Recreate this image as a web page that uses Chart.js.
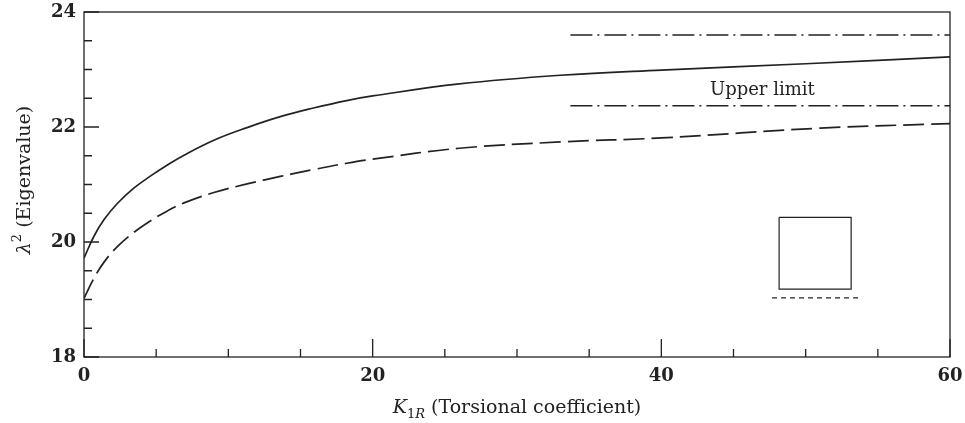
<!DOCTYPE html>
<html>
<head>
<meta charset="utf-8">
<script src="https://cdn.jsdelivr.net/npm/chart.js@4"></script>
<style>
  html, body { margin: 0; padding: 0; background: #fff; }
  #wrap { width: 965px; height: 423px; }
</style>
</head>
<body>
<div id="wrap"><canvas id="eigenChart"></canvas></div>
<script>
// solid curve (upper)
const kSolid = [0, 0.69, 1.39, 2.31, 3.47, 4.62, 5.78, 6.93, 9, 11.3, 13.6, 15.9, 18.2, 20, 26, 33, 40, 50, 60];
const lambdaSolid = [19.72, 20.10, 20.39, 20.67, 20.94, 21.15, 21.34, 21.51, 21.77, 21.99, 22.18, 22.33, 22.46, 22.54, 22.75, 22.90, 22.99, 23.10, 23.22];

// dashed curve (lower)
const kDashed = [0, 0.69, 1.39, 2.31, 3.47, 4.62, 5.78, 6.93, 9, 11.3, 13.6, 15.9, 18.2, 20, 26, 33, 40, 51, 60];
const lambdaDashed = [19.02, 19.37, 19.65, 19.92, 20.17, 20.37, 20.54, 20.68, 20.86, 21.01, 21.14, 21.26, 21.37, 21.44, 21.63, 21.74, 21.81, 21.98, 22.06];

// upper limit band (dash-dot)
const limitK = [33.7, 60];
const limitTop = [23.6, 23.6];
const limitBottom = [22.37, 22.37];

// small cross-section sketch
const boxK = [48.16, 53.15, 53.15, 48.16, 48.16];
const boxLambda = [20.43, 20.43, 19.18, 19.18, 20.43];
const baseK = [47.67, 53.7];
const baseLambda = [19.03, 19.03];

const xTickLabels = [0, 20, 40, 60];
const yTickLabels = [18, 20, 22, 24];
const limitLabel = { text: "Upper limit", k: 47.0, lambda: 22.64 };

const INK = "#222";
const SERIF = "'DejaVu Serif', 'Liberation Serif', serif";

function pts(xs, ys) {
  return xs.map((x, i) => ({ x: x, y: ys[i] }));
}

function drawRich(ctx, parts, cx, cy) {
  // parts: [text, font, dy]
  let total = 0;
  parts.forEach(p => { ctx.font = p[1]; total += ctx.measureText(p[0]).width; });
  let x = cx - total / 2;
  ctx.textBaseline = "alphabetic";
  ctx.textAlign = "left";
  parts.forEach(p => {
    ctx.font = p[1];
    ctx.fillText(p[0], x, cy + p[2]);
    x += ctx.measureText(p[0]).width;
  });
}

const framePlugin = {
  id: "frame",
  afterDraw(chart) {
    const ctx = chart.ctx;
    const a = chart.chartArea;
    const xs = chart.scales.x;
    const ys = chart.scales.y;
    ctx.save();
    ctx.strokeStyle = INK;
    ctx.fillStyle = INK;
    ctx.lineWidth = 1.3;
    ctx.strokeRect(a.left, a.top, a.right - a.left, a.bottom - a.top);

    // inward ticks
    ctx.beginPath();
    xs.ticks.forEach(t => {
      const px = xs.getPixelForValue(t.value);
      const len = (t.value % 20 === 0) ? 18 : 8;
      ctx.moveTo(px, a.bottom);
      ctx.lineTo(px, a.bottom - len);
    });
    ys.ticks.forEach(t => {
      const py = ys.getPixelForValue(t.value);
      const len = (t.value % 2 === 0) ? 15 : 8;
      ctx.moveTo(a.left, py);
      ctx.lineTo(a.left + len, py);
    });
    ctx.stroke();

    // x title
    drawRich(ctx, [
      ["K", "italic 19px " + SERIF, 0],
      ["1", "13px " + SERIF, 5],
      ["R", "italic 13px " + SERIF, 5],
      [" (Torsional coefficient)", "19px " + SERIF, 0]
    ], (a.left + a.right) / 2, 413);

    // y title
    ctx.save();
    ctx.translate(30, 180);
    ctx.rotate(-Math.PI / 2);
    drawRich(ctx, [
      ["\u03bb", "italic 19px " + SERIF, 0],
      ["2", "13px " + SERIF, -9],
      [" (Eigenvalue)", "19px " + SERIF, 0]
    ], 0, 0);
    ctx.restore();

    // upper limit label
    ctx.font = "18px " + SERIF;
    ctx.textAlign = "center";
    ctx.textBaseline = "middle";
    ctx.fillText(limitLabel.text, xs.getPixelForValue(limitLabel.k), ys.getPixelForValue(limitLabel.lambda));
    ctx.restore();
  }
};

const lineStyle = { borderColor: INK, pointRadius: 0, fill: false, showLine: true };

new Chart(document.getElementById("eigenChart"), {
  type: "scatter",
  data: {
    datasets: [
      Object.assign({ label: "solid", data: pts(kSolid, lambdaSolid), borderWidth: 1.7, tension: 0.4 }, lineStyle),
      Object.assign({ label: "dashed", data: pts(kDashed, lambdaDashed), borderWidth: 1.7, borderDash: [21, 7], tension: 0.4 }, lineStyle),
      Object.assign({ label: "limit top", data: pts(limitK, limitTop), borderWidth: 1.3, borderDash: [22, 5, 2, 5] }, lineStyle),
      Object.assign({ label: "limit bottom", data: pts(limitK, limitBottom), borderWidth: 1.3, borderDash: [22, 5, 2, 5] }, lineStyle),
      Object.assign({ label: "box", data: pts(boxK, boxLambda), borderWidth: 1.2, tension: 0 }, lineStyle),
      Object.assign({ label: "base", data: pts(baseK, baseLambda), borderWidth: 1.2, borderDash: [5, 4] }, lineStyle)
    ]
  },
  options: {
    responsive: true,
    maintainAspectRatio: false,
    animation: false,
    layout: { padding: { left: 0, right: 15, top: 12, bottom: 0 } },
    plugins: { legend: { display: false }, tooltip: { enabled: false } },
    scales: {
      x: {
        type: "linear",
        min: 0,
        max: 60,
        grid: { display: false, drawTicks: false },
        border: { display: false },
        afterFit(scale) {
          scale.height = 66;
          scale.paddingLeft = 0;
          scale.paddingRight = 0;
        },
        ticks: {
          stepSize: 5,
          autoSkip: false,
          maxRotation: 0,
          padding: 9,
          color: INK,
          font: { family: SERIF, size: 18, weight: "bold" },
          callback: v => xTickLabels.includes(v) ? String(v) : ""
        }
      },
      y: {
        type: "linear",
        min: 18,
        max: 24,
        grid: { display: false, drawTicks: false },
        border: { display: false },
        afterFit(scale) {
          scale.width = 84;
          scale.paddingTop = 0;
          scale.paddingBottom = 0;
        },
        ticks: {
          stepSize: 0.5,
          autoSkip: false,
          padding: 8,
          color: INK,
          font: { family: SERIF, size: 18, weight: "bold" },
          callback: v => yTickLabels.includes(v) ? String(v) : ""
        }
      }
    }
  },
  plugins: [framePlugin]
});
</script>
</body>
</html>
